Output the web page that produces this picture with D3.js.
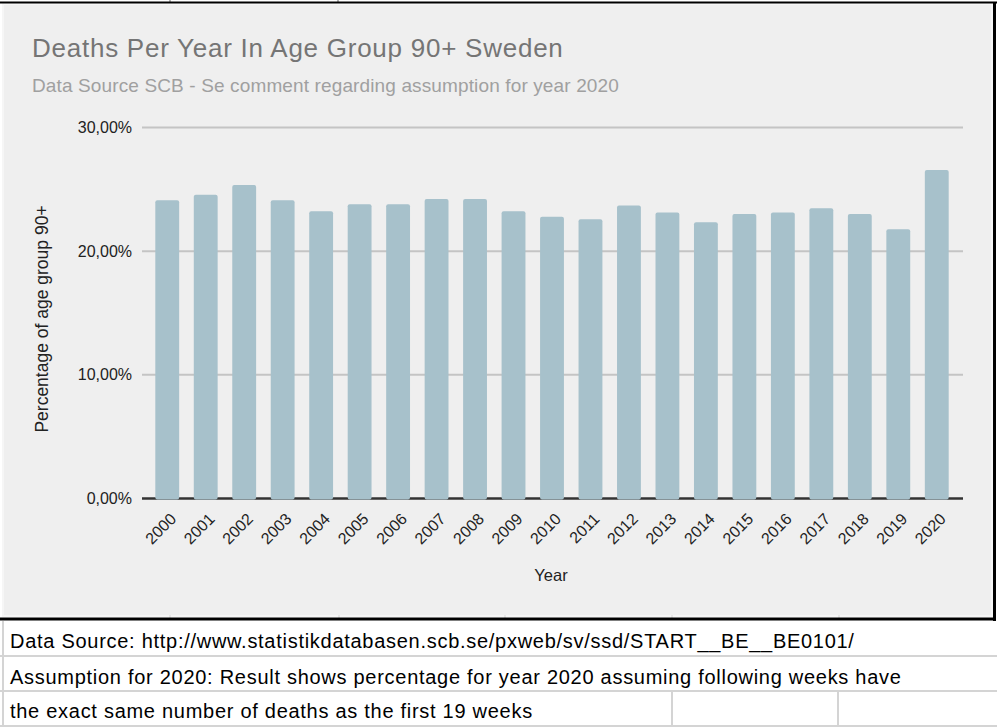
<!DOCTYPE html>
<html><head><meta charset="utf-8">
<script src="https://cdn.jsdelivr.net/npm/d3@7"></script>
<style>
html,body{margin:0;padding:0;background:#fff;}
svg{display:block;font-family:"Liberation Sans",Arial,Helvetica,sans-serif;}
</style></head>
<body>
<svg id="c" width="997" height="727"></svg>
<script>
const years = ["2000","2001","2002","2003","2004","2005","2006","2007","2008","2009","2010","2011","2012","2013","2014","2015","2016","2017","2018","2019","2020"];
const values = [24.11,24.57,25.35,24.11,23.22,23.79,23.79,24.22,24.22,23.22,22.78,22.58,23.69,23.12,22.34,23.0,23.12,23.47,23.0,21.77,26.56];
const yTicks = [0,10,20,30];
const title = "Deaths Per Year In Age Group 90+ Sweden";
const subtitle = "Data Source SCB - Se comment regarding assumption for year 2020";
const xTitle = "Year";
const yTitle = "Percentage of age group 90+";
const notes = ["Data Source: http://www.statistikdatabasen.scb.se/pxweb/sv/ssd/START__BE__BE0101/",
  "Assumption for 2020: Result shows percentage for year 2020 assuming following weeks have",
  "the exact same number of deaths as the first 19 weeks"];

const svg = d3.select("#c");

// chart panel
svg.append("rect").attr("x",3).attr("y",4).attr("width",989).attr("height",612)
  .attr("fill","#efefef").attr("stroke","#f6f6f6").attr("stroke-width",2);
// faint sheet grid marks peeking at edges
[170, 339, 505, 672, 839].forEach(xx => svg.append("line").attr("x1",xx).attr("x2",xx).attr("y1",615).attr("y2",618).attr("stroke","#e2e2e2").attr("stroke-width",1.5));
[170, 338].forEach(xx => svg.append("line").attr("x1",xx).attr("x2",xx).attr("y1",0).attr("y2",2).attr("stroke","#999").attr("stroke-width",1.5));
svg.append("line").attr("x1",0).attr("x2",997).attr("y1",2.5).attr("y2",2.5).attr("stroke","#000").attr("stroke-width",2);
svg.append("line").attr("x1",994.5).attr("x2",994.5).attr("y1",2).attr("y2",621).attr("stroke","#000").attr("stroke-width",3);
svg.append("line").attr("x1",0).attr("x2",996).attr("y1",619).attr("y2",619).attr("stroke","#000").attr("stroke-width",3);

// table below
const rowLines = [656, 691, 726];
rowLines.forEach(y => svg.append("line").attr("x1",0).attr("x2",997).attr("y1",y).attr("y2",y).attr("stroke","#d4d4d4").attr("stroke-width",2));
svg.append("line").attr("x1",3).attr("x2",3).attr("y1",621).attr("y2",727).attr("stroke","#d4d4d4").attr("stroke-width",2);
[672, 838].forEach(x => svg.append("line").attr("x1",x).attr("x2",x).attr("y1",691).attr("y2",727).attr("stroke","#d4d4d4").attr("stroke-width",2));
const noteY = [648, 684, 718];
notes.forEach((t,i) => svg.append("text").attr("x",10).attr("y",noteY[i]).attr("font-size",20)
  .attr("letter-spacing","0.72px").attr("fill","#000").text(t));

// titles
svg.append("text").attr("x",32).attr("y",57).attr("font-size",26).attr("letter-spacing","0.75px").attr("fill","#757575").text(title);
svg.append("text").attr("x",32).attr("y",92).attr("font-size",19).attr("letter-spacing","0.13px").attr("fill","#a0a0a0").text(subtitle);

const x = d3.scaleBand().domain(years).range([148,956]).paddingInner(0.38).paddingOuter(0.19);
const y = d3.scaleLinear().domain([0,30]).range([498.5,127.5]);

// gridlines
const grid = svg.append("g");
grid.selectAll("line").data(yTicks.filter(d=>d>0)).join("line")
  .attr("x1",142).attr("x2",963).attr("y1",d=>y(d)).attr("y2",d=>y(d))
  .attr("stroke","#c4c4c4").attr("stroke-width",2);
svg.append("line").attr("x1",142).attr("x2",963).attr("y1",y(0)).attr("y2",y(0)).attr("stroke","#333").attr("stroke-width",2.5);

// y axis labels
const fmt = d => d3.format(".2f")(d).replace(".",",") + "%";
const yAxis = d3.axisLeft(y).tickValues(yTicks).tickFormat(fmt).tickSize(0).tickPadding(0);
const ya = svg.append("g").attr("transform","translate(132,0)").call(yAxis);
ya.select(".domain").remove();
ya.selectAll("text").attr("font-size",16).attr("fill","#222").attr("font-family","Liberation Sans, Arial, sans-serif");

// bars
svg.append("g").selectAll("rect").data(years).join("rect")
  .attr("x",d=>x(d)).attr("width",x.bandwidth())
  .attr("y",(d,i)=>y(values[i])).attr("height",(d,i)=>y(0)-y(values[i])+1)
  .attr("rx",2).attr("fill","#a7c1cb");

// x axis labels
const xAxis = d3.axisBottom(x).tickSize(0).tickPadding(0);
const xa = svg.append("g").call(xAxis);
xa.select(".domain").remove();
xa.selectAll(".tick").attr("transform",d=>`translate(${x(d)+x.bandwidth()/2+6},516)`);
xa.selectAll("text").attr("font-size",16).attr("fill","#222").attr("font-family","Liberation Sans, Arial, sans-serif")
  .attr("text-anchor","end").attr("dy","0.35em").attr("y",0).attr("transform","rotate(-45)");

// axis titles
svg.append("text").attr("x",551).attr("y",581).attr("text-anchor","middle").attr("font-size",16.5).attr("fill","#222").text(xTitle);
svg.append("text").attr("transform","translate(48,319) rotate(-90)").attr("text-anchor","middle").attr("font-size",17.5).attr("fill","#222").text(yTitle);
</script>
</body></html>
